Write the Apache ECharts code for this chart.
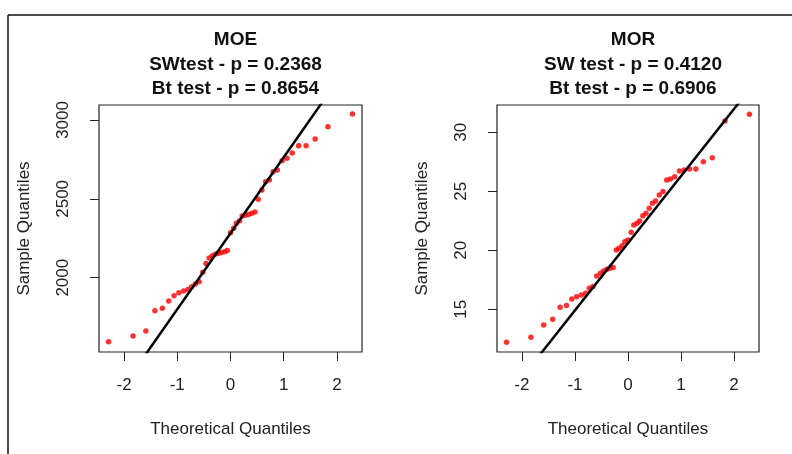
<!DOCTYPE html>
<html>
<head>
<meta charset="utf-8">
<script src="https://cdn.jsdelivr.net/npm/echarts@6/dist/echarts.min.js"></script>
<style>
  html, body { margin: 0; padding: 0; background: #fff; }
  #main { width: 792px; height: 454px; }
</style>
</head>
<body>
<div id="main"></div>
<script>
// theoretical quantiles (same 45 positions in both panels)
const theoQ = [-2.29, -1.83, -1.59, -1.42, -1.28, -1.16, -1.06, -0.97, -0.88, -0.80, -0.73, -0.66, -0.59, -0.52, -0.46,
    -0.40, -0.34, -0.28, -0.22, -0.17, -0.11, -0.06, 0, 0.06, 0.11, 0.17, 0.22, 0.28, 0.34, 0.40,
    0.46, 0.52, 0.59, 0.66, 0.73, 0.80, 0.88, 0.97, 1.06, 1.16, 1.28, 1.42, 1.59, 1.83, 2.29];

// sample quantiles
const moeVals = [1594, 1630, 1662, 1791, 1806, 1852, 1886, 1905, 1915, 1925, 1943, 1960, 1975, 2035, 2090,
    2125, 2140, 2150, 2155, 2160, 2165, 2172, 2285, 2313, 2345, 2361, 2391, 2396, 2400, 2408,
    2417, 2497, 2556, 2609, 2620, 2672, 2683, 2742, 2757, 2790, 2836, 2836, 2880, 2957, 3038];
const morVals = [12.20, 12.63, 13.67, 14.15, 15.17, 15.31, 15.87, 16.07, 16.21, 16.36, 16.78, 16.92, 17.82, 18.05, 18.25,
    18.39, 18.47, 18.53, 20.03, 20.17, 20.39, 20.73, 20.87, 21.53, 22.14, 22.29, 22.48, 22.93, 23.14, 23.56,
    23.98, 24.18, 24.69, 24.97, 25.96, 26.04, 26.24, 26.72, 26.81, 26.89, 26.89, 27.51, 27.85, 30.96, 31.53];

// qqline: intercept, slope
const moeLine = [2282, 482];
const morLine = [20.60, 5.69];

const xTicks = [-2, -1, 0, 1, 2];
const moeTicks = [2000, 2500, 3000];
const morTicks = [15, 20, 25, 30];

const titles = [
    ['MOE', 'SWtest - p = 0.2368', 'Bt test - p = 0.8654'],
    ['MOR', 'SW test - p = 0.4120', 'Bt test - p = 0.6906']
];

const xRange = [-2.47, 2.47];
const moeRange = [1529, 3095];
const morRange = [11.38, 32.31];

const FONT = '"Liberation Sans", Arial, sans-serif';

let chart = echarts.init(document.getElementById('main'), null, {renderer: 'canvas'});

// 处理散点数据
const pairs = (xs, ys) => xs.map((x, i) => [x, ys[i]]);
const linePts = (ab) => xRange.map(x => [x, ab[0] + ab[1] * x]);

const grids = [
    {left: 99, top: 105, width: 263, height: 247},
    {left: 497, top: 105, width: 262, height: 247}
];

let xAxis = grids.map((g, i) => ({
    type: 'value',
    gridIndex: i,
    min: xRange[0],
    max: xRange[1],
    name: 'Theoretical Quantiles',
    nameLocation: 'middle',
    nameGap: 69,
    nameTextStyle: {fontFamily: FONT, fontSize: 17, color: '#222'},
    axisLine: {show: false, onZero: false},
    axisTick: {show: true, length: 9, customValues: xTicks, lineStyle: {color: '#222', width: 1}},
    axisLabel: {customValues: xTicks, margin: 25, fontFamily: FONT, fontSize: 17, color: '#222'},
    splitLine: {show: false}
}));

let yAxis = [
    {range: moeRange, ticks: moeTicks},
    {range: morRange, ticks: morTicks}
].map((a, i) => ({
    type: 'value',
    gridIndex: i,
    min: a.range[0],
    max: a.range[1],
    name: 'Sample Quantiles',
    nameLocation: 'middle',
    nameGap: 66,
    nameRotate: 90,
    nameTextStyle: {fontFamily: FONT, fontSize: 17, color: '#222'},
    axisLine: {show: false, onZero: false},
    axisTick: {show: true, length: 9, customValues: a.ticks, lineStyle: {color: '#222', width: 1}},
    axisLabel: {
        customValues: a.ticks, rotate: 90, margin: 27,
        formatter: v => String(v),
        fontFamily: FONT, fontSize: 17, color: '#222'
    },
    splitLine: {show: false}
}));

let option = {
    backgroundColor: '#fff',
    animation: false,
    title: titles.map((t, i) => ({
        text: t.join('\n'),
        left: grids[i].left + grids[i].width / 2,
        top: 23,
        textAlign: 'center',
        textStyle: {fontFamily: FONT, fontSize: 19, fontWeight: 'bold', color: '#111', lineHeight: 24.5}
    })),
    grid: grids.map(g => Object.assign({show: true, borderColor: '#222', borderWidth: 1.2, containLabel: false}, g)),
    xAxis,
    yAxis,
    series: [
        {
            type: 'scatter', xAxisIndex: 0, yAxisIndex: 0,
            data: pairs(theoQ, moeVals),
            symbolSize: 5.5, itemStyle: {color: '#ff0000'}, z: 2
        },
        {
            type: 'line', xAxisIndex: 0, yAxisIndex: 0,
            data: linePts(moeLine), clip: true, showSymbol: false, symbol: 'none',
            lineStyle: {color: '#000', width: 2.5}, z: 3, silent: true
        },
        {
            type: 'scatter', xAxisIndex: 1, yAxisIndex: 1,
            data: pairs(theoQ, morVals),
            symbolSize: 5.5, itemStyle: {color: '#ff0000'}, z: 2
        },
        {
            type: 'line', xAxisIndex: 1, yAxisIndex: 1,
            data: linePts(morLine), clip: true, showSymbol: false, symbol: 'none',
            lineStyle: {color: '#000', width: 2.5}, z: 3, silent: true
        }
    ],
    // 外框
    graphic: [
        {type: 'line', shape: {x1: 8, y1: 15, x2: 792, y2: 15}, style: {stroke: '#111', lineWidth: 1.5}},
        {type: 'line', shape: {x1: 8, y1: 15, x2: 8, y2: 454}, style: {stroke: '#111', lineWidth: 1.5}}
    ]
};
chart.setOption(option);
</script>
</body>
</html>
